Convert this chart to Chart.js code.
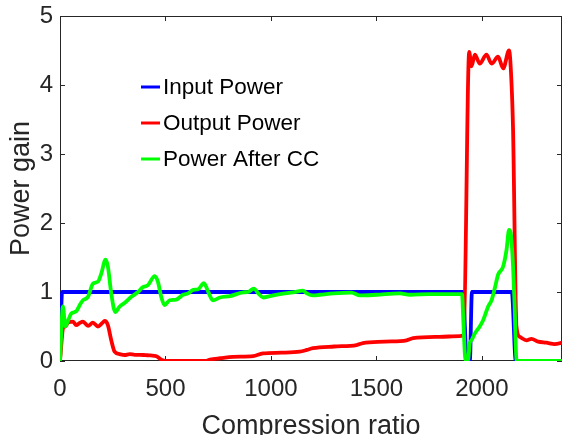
<!DOCTYPE html>
<html>
<head>
<meta charset="utf-8">
<script src="https://cdn.jsdelivr.net/npm/chart.js"></script>
<style>
  html, body { margin: 0; padding: 0; background: #fff; }
  #wrap { width: 562px; height: 435px; position: relative; }
</style>
</head>
<body>
<div id="wrap"><canvas id="powerChart"></canvas></div>
<script>
// Power gain vs compression ratio

const xTickValues = [0, 500, 1000, 1500, 2000];
const yTickValues = [0, 1, 2, 3, 4, 5];

const inputX = [0, 10, 1910, 1929, 1943, 1953, 2142, 2161, 2380];
const inputY = [0, 1, 1, 0, 0, 1, 1, 0, 0];

const outputX = [0, 15, 25, 40, 62, 77, 93, 109, 133, 156, 180, 200, 212, 227, 243, 259, 283, 307, 330, 355, 380, 405, 430, 457, 480, 500,
  690, 711, 760, 820, 915, 962, 1050, 1137, 1170, 1199, 1300, 1406, 1436, 1540, 1643, 1674, 1800, 1896, 1914,
  1940, 1951, 1967, 1990, 2022, 2046, 2077, 2101, 2129, 2140, 2148, 2164, 2180, 2212, 2235, 2267, 2306, 2346, 2380];
const outputY = [0, 0.48, 0.50, 0.56, 0.57, 0.52, 0.55, 0.57, 0.51, 0.555, 0.50, 0.55, 0.58, 0.52, 0.30, 0.135, 0.10, 0.087, 0.10, 0.09, 0.09, 0.085, 0.08, 0.07, 0.02, 0,
  0, 0.02, 0.04, 0.06, 0.07, 0.11, 0.12, 0.135, 0.16, 0.185, 0.21, 0.23, 0.26, 0.28, 0.30, 0.33, 0.35, 0.36, 0.38,
  4.48, 4.27, 4.44, 4.31, 4.44, 4.31, 4.41, 4.24, 4.50, 4.07, 3.35, 0.50, 0.35, 0.30, 0.32, 0.28, 0.265, 0.245, 0.265];

const afterX = [0, 14, 25, 40, 54, 77, 95, 109, 133, 156, 180, 196, 216, 227, 243, 262, 283, 306, 338, 370, 393, 417, 449, 464, 480, 496,
  520, 551, 583, 607, 632, 655, 682, 703, 725, 758, 806, 869, 892, 919, 940, 963, 995, 1043, 1106, 1152, 1170, 1199,
  1232, 1300, 1382, 1422, 1500, 1611, 1659, 1750, 1896, 1906, 1912, 1920, 1927, 1935, 1943, 1951, 1967, 1990, 2006,
  2030, 2046, 2061, 2077, 2101, 2117, 2129, 2137, 2148, 2156, 2164, 2172, 2380];
const afterY = [0, 0.79, 0.50, 0.60, 0.69, 0.72, 0.82, 0.88, 0.93, 1.12, 1.15, 1.27, 1.47, 1.37, 0.98, 0.71, 0.79, 0.84, 0.93, 1.00, 1.07, 1.10, 1.23, 1.15, 0.93, 0.81,
  0.88, 0.89, 0.96, 0.98, 1.03, 1.04, 1.13, 1.00, 0.88, 0.92, 0.94, 0.995, 1.00, 1.05, 0.98, 0.92, 0.94, 0.97, 0.995, 1.02, 0.98, 0.95,
  0.96, 0.98, 0.99, 0.95, 0.96, 0.98, 0.96, 0.97, 0.97, 0.97, 0.60, 0.08, 0, 0.02, 0.26, 0.30, 0.40, 0.50, 0.59,
  0.79, 0.88, 1.05, 1.25, 1.37, 1.61, 1.90, 1.85, 1.37, 0.74, 0.02, 0, 0];

const FONT = '"Liberation Sans", Arial, Helvetica, sans-serif';
const AXIS_COLOR = '#262626';

function toPoints(xs, ys) {
    return xs.map((x, i) => ({ x: x, y: ys[i] }));
}

// MATLAB style box with inward ticks on all four sides
const boxPlugin = {
    id: 'matlabBox',
    beforeDatasetsDraw(chart) {
        const { ctx, chartArea: a, scales } = chart;
        ctx.save();
        ctx.strokeStyle = AXIS_COLOR;
        ctx.lineWidth = 1;
        ctx.strokeRect(a.left + 0.5, a.top + 0.5, a.right - a.left - 1, a.bottom - a.top - 1);
        const len = 5;
        ctx.beginPath();
        scales.x.ticks.forEach(t => {
            const px = Math.round(scales.x.getPixelForValue(t.value)) + 0.5;
            ctx.moveTo(px, a.bottom); ctx.lineTo(px, a.bottom - len);
            ctx.moveTo(px, a.top); ctx.lineTo(px, a.top + len);
        });
        scales.y.ticks.forEach(t => {
            const py = Math.round(scales.y.getPixelForValue(t.value)) + 0.5;
            ctx.moveTo(a.left, py); ctx.lineTo(a.left + len, py);
            ctx.moveTo(a.right, py); ctx.lineTo(a.right - len, py);
        });
        ctx.stroke();
        ctx.restore();
    }
};

// legend drawn inside the plot, no frame
const legendPlugin = {
    id: 'innerLegend',
    afterDraw(chart) {
        const { ctx, chartArea: a } = chart;
        ctx.save();
        ctx.font = '22.5px ' + FONT;
        ctx.textBaseline = 'middle';
        ctx.fillStyle = '#000';
        chart.data.datasets.forEach((ds, i) => {
            const y = a.top + 71 + i * 36;
            ctx.strokeStyle = ds.borderColor;
            ctx.lineWidth = 3;
            ctx.beginPath();
            ctx.moveTo(a.left + 81, y);
            ctx.lineTo(a.left + 100, y);
            ctx.stroke();
            ctx.fillText(ds.label, a.left + 103, y + 1);
        });
        ctx.restore();
    }
};

new Chart(document.getElementById('powerChart'), {
    type: 'line',
    data: {
        datasets: [
            { label: 'Input Power', data: toPoints(inputX, inputY), borderColor: '#0000FF', order: 2 },
            { label: 'Output Power', data: toPoints(outputX, outputY), borderColor: '#FF0000', order: 1 },
            { label: 'Power After CC', data: toPoints(afterX, afterY), borderColor: '#00FF00', order: 0 }
        ]
    },
    options: {
        responsive: true,
        maintainAspectRatio: false,
        animation: false,
        layout: { padding: { top: 16, right: 0, left: 0, bottom: 0 } },
        elements: {
            point: { radius: 0 },
            line: { borderWidth: 3.8, cubicInterpolationMode: 'monotone', fill: false }
        },
        plugins: {
            legend: { display: false },
            tooltip: { enabled: false }
        },
        scales: {
            x: {
                type: 'linear',
                min: 0,
                max: 2380,
                grid: { display: false },
                border: { display: false },
                afterBuildTicks: s => { s.ticks = xTickValues.map(v => ({ value: v })); },
                afterFit: s => { s.height = 74; },
                ticks: { color: AXIS_COLOR, font: { family: FONT, size: 24 }, padding: 6, maxRotation: 0, callback: v => String(v) },
                title: { display: true, text: 'Compression ratio', color: AXIS_COLOR, font: { family: FONT, size: 27 }, padding: { top: 0, bottom: -8 } }
            },
            y: {
                min: 0,
                max: 5,
                grid: { display: false },
                border: { display: false },
                afterBuildTicks: s => { s.ticks = yTickValues.map(v => ({ value: v })); },
                afterFit: s => { s.width = 60; },
                ticks: { color: AXIS_COLOR, font: { family: FONT, size: 24 }, padding: -1, callback: v => String(v) },
                title: { display: true, text: 'Power gain', color: AXIS_COLOR, font: { family: FONT, size: 27 }, padding: { top: 5, bottom: 0 } }
            }
        }
    },
    plugins: [boxPlugin, legendPlugin]
});
</script>
</body>
</html>
